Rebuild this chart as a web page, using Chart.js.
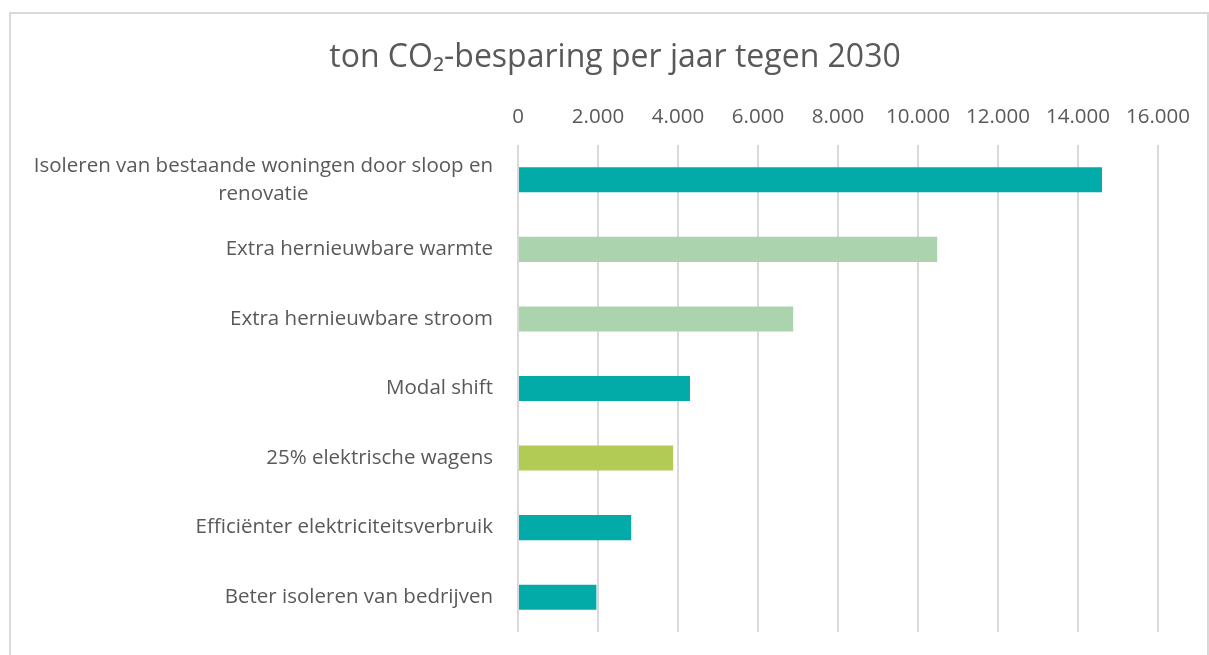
<!DOCTYPE html>
<html>
<head>
<meta charset="utf-8">
<script src="https://cdn.jsdelivr.net/npm/chart.js@4"></script>
<style>
  html, body { margin: 0; padding: 0; background: #fff; overflow: hidden; }
  #frame { position: absolute; left: 9px; top: 12px; width: 1196px; height: 700px; border: 2px solid #d9d9d9; }
  #wrap { position: absolute; left: 0; top: 0; width: 1209px; height: 655px; }
</style>
</head>
<body>
<div id="frame"></div>
<div id="wrap"><canvas id="co2Chart"></canvas></div>
<script>
const categories = [
    ['Isoleren van bestaande woningen door sloop en', 'renovatie'],
    'Extra hernieuwbare warmte',
    'Extra hernieuwbare stroom',
    'Modal shift',
    '25% elektrische wagens',
    'Efficiënter elektriciteitsverbruik',
    'Beter isoleren van bedrijven'
];
const savings = [14600, 10480, 6880, 4300, 3880, 2830, 1960];
const barColors = ['#02aba8', '#abd3ae', '#abd3ae', '#02aba8', '#b1cb55', '#02aba8', '#02aba8'];
const tickLabels = ['0', '2.000', '4.000', '6.000', '8.000', '10.000', '12.000', '14.000', '16.000'];

const textColor = '#595959';
const fontFamily = '"Open Sans", "Noto Sans", sans-serif';

// category labels drawn by hand so the wrapped first label can be centred like Excel does
const categoryLabels = {
    id: 'categoryLabels',
    afterDraw(chart) {
        const ctx = chart.ctx;
        const yScale = chart.scales.y;
        const rightX = chart.chartArea.left - 25;
        const lineHeight = 28;
        ctx.save();
        ctx.font = '20.5px ' + fontFamily;
        ctx.fillStyle = textColor;
        ctx.textBaseline = 'middle';
        categories.forEach(function (label, i) {
            const y = yScale.getPixelForTick(i);
            if (Array.isArray(label)) {
                const widest = Math.max(...label.map(l => ctx.measureText(l).width));
                const cx = rightX - widest / 2;
                const top = y - (label.length - 1) * lineHeight / 2;
                ctx.textAlign = 'center';
                label.forEach(function (line, j) {
                    ctx.fillText(line, cx, top + j * lineHeight);
                });
            } else {
                ctx.textAlign = 'right';
                ctx.fillText(label, rightX, y);
            }
        });
        ctx.restore();
    }
};

document.addEventListener('DOMContentLoaded', function () {
    const ctx = document.getElementById('co2Chart').getContext('2d');

    new Chart(ctx, {
        type: 'bar',
        data: {
            labels: categories,
            datasets: [{
                data: savings,
                backgroundColor: barColors,
                borderWidth: 0,
                categoryPercentage: 1,
                barPercentage: 0.36
            }]
        },
        options: {
            indexAxis: 'y',
            responsive: true,
            maintainAspectRatio: false,
            animation: false,
            layout: {
                padding: {top: 20, left: 72, right: 51, bottom: 23}
            },
            scales: {
                x: {
                    position: 'top',
                    min: 0,
                    max: 16000,
                    ticks: {
                        stepSize: 2000,
                        padding: 16,
                        color: textColor,
                        font: {family: fontFamily, size: 20.5},
                        callback: function (value, index) {
                            return tickLabels[index];
                        }
                    },
                    grid: {
                        color: '#d9d9d9',
                        lineWidth: 2,
                        drawTicks: false
                    },
                    border: {display: false}
                },
                y: {
                    ticks: {display: false},
                    grid: {display: false},
                    border: {display: false},
                    afterFit: function (scale) {
                        scale.width = 446;
                    }
                }
            },
            plugins: {
                legend: {display: false},
                tooltip: {enabled: false},
                title: {
                    display: true,
                    text: 'ton CO₂-besparing per jaar tegen 2030',
                    color: textColor,
                    font: {family: fontFamily, size: 32, weight: 'normal'},
                    padding: {top: 19, bottom: 11}
                }
            }
        },
        plugins: [categoryLabels]
    });
});
</script>
</body>
</html>
